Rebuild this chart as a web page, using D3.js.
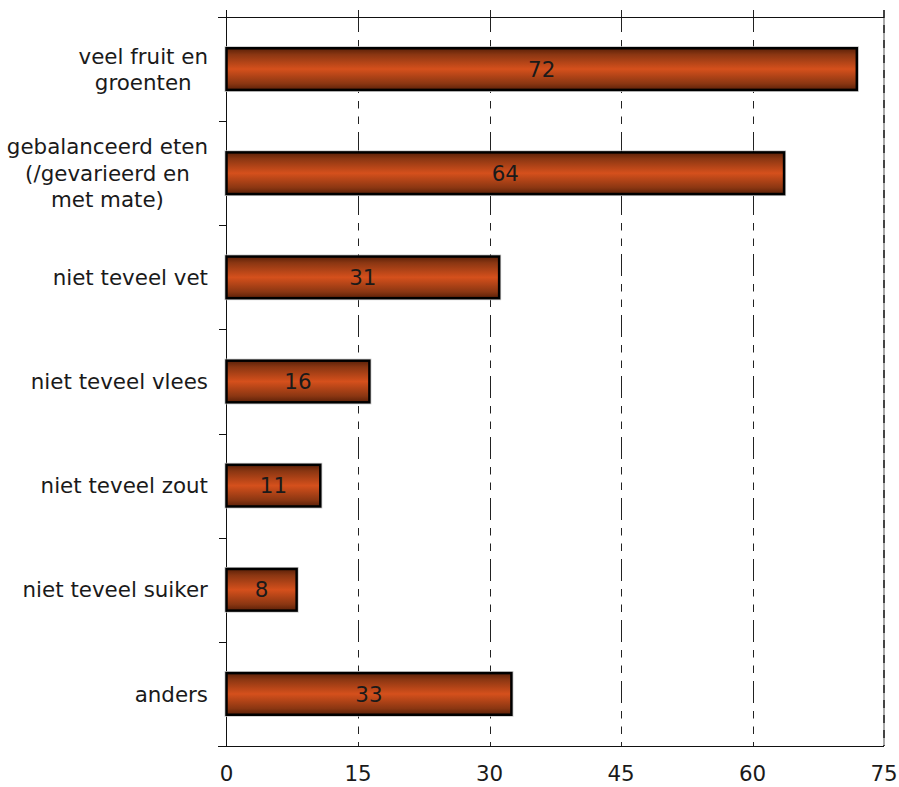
<!DOCTYPE html>
<html><head><meta charset="utf-8">
<script src="https://cdn.jsdelivr.net/npm/d3@7"></script>
<style>body{margin:0;background:#fff}svg{display:block}text{font-family:"DejaVu Sans",Verdana,sans-serif;fill:#1a1a1a}</style>
</head><body><svg id="c" width="899" height="787"></svg>
<script>
const categories = [["veel fruit en","groenten"],["gebalanceerd eten","(/gevarieerd en","met mate)"],["niet teveel vet"],["niet teveel vlees"],["niet teveel zout"],["niet teveel suiker"],["anders"]];
const values = [71.9,63.6,31.1,16.3,10.7,8.0,32.5];
const ticks = [0,15,30,45,60,75];

(function(){
const svg = d3.select("#c");
const pL = 226.5, pR = 884, pT = 17, pB = 746;
const fs = "21.4px";
const x = d3.scaleLinear().domain([0,75]).range([pL,pR]);
const y = d3.scaleBand().domain(d3.range(categories.length)).range([pT,pB]).paddingInner(0.6).paddingOuter(0.3);
const yb = d3.scaleBand().domain(d3.range(categories.length)).range([pT,pB]);

const defs = svg.append("defs");
const g = defs.append("linearGradient").attr("id","bg").attr("x1",0).attr("y1",0).attr("x2",0).attr("y2",1);
[[0,"#5a2008"],[0.15,"#8a3612"],[0.5,"#d5501c"],[0.85,"#8a3612"],[1,"#5a2008"]].forEach(s=>g.append("stop").attr("offset",s[0]).attr("stop-color",s[1]));

svg.append("g").selectAll("line").data(ticks.filter(t=>t>0 && t<75)).join("line")
  .attr("x1",d=>Math.round(x(d))+0.5).attr("x2",d=>Math.round(x(d))+0.5).attr("y1",10).attr("y2",pB)
  .attr("stroke","#222").attr("stroke-width",1).attr("stroke-dasharray","22,8,7.5,8,7.5,8");
svg.append("line").attr("x1",x(75)).attr("x2",x(75)).attr("y1",10).attr("y2",pB)
  .attr("stroke","#aaa").attr("stroke-width",2);
svg.append("line").attr("x1",x(75)).attr("x2",x(75)).attr("y1",10).attr("y2",pB)
  .attr("stroke","#444").attr("stroke-width",2).attr("stroke-dasharray","8,7");

svg.append("line").attr("x1",218).attr("x2",pR).attr("y1",pT+0.5).attr("y2",pT+0.5).attr("stroke","#111");
svg.append("line").attr("x1",218).attr("x2",pR).attr("y1",pB+0.5).attr("y2",pB+0.5).attr("stroke","#111");
svg.append("line").attr("x1",pL).attr("x2",pL).attr("y1",10).attr("y2",pB).attr("stroke","#111");
svg.append("g").selectAll("line").data(d3.range(1,categories.length)).join("line")
  .attr("x1",219).attr("x2",pL).attr("y1",d=>Math.round(yb(d))+0.5).attr("y2",d=>Math.round(yb(d))+0.5).attr("stroke","#111");

svg.append("g").selectAll("rect").data(values).join("rect")
  .attr("x",x(0)-1.5).attr("y",(d,i)=>y(i)-1.5).attr("width",d=>x(d)-x(0)+3).attr("height",y.bandwidth()+3)
  .attr("fill","none").attr("stroke","#c8c8c8").attr("stroke-width",1);
svg.append("g").selectAll("rect").data(values).join("rect")
  .attr("x",x(0)).attr("y",(d,i)=>y(i)).attr("width",d=>x(d)-x(0)).attr("height",y.bandwidth())
  .attr("fill","url(#bg)").attr("stroke","#000").attr("stroke-width",2.5);
svg.append("g").selectAll("text").data(values).join("text")
  .attr("x",d=>(x(0)+x(d))/2).attr("y",(d,i)=>y(i)+y.bandwidth()/2).attr("dy","0.36em")
  .attr("text-anchor","middle").attr("font-size",fs).text(d=>d3.format(".0f")(d));

const lh = 26.5;
categories.forEach((lines,i)=>{
  const cy = yb(i)+yb.bandwidth()/2;
  const t = svg.append("text").attr("font-size",fs).attr("text-anchor","middle");
  const n = lines.length;
  lines.forEach((l,j)=>{
    t.append("tspan").attr("x",0).attr("y",cy+(j-(n-1)/2)*lh).attr("dy","0.36em").text(l);
  });
  const w = t.node().getBBox().width;
  t.attr("transform",`translate(${208-w/2},0)`);
});

svg.append("g").selectAll("text").data(ticks).join("text")
  .attr("x",d=>x(d)).attr("y",781).attr("text-anchor","middle").attr("font-size",fs).text(d=>d);
})();
</script></body></html>
